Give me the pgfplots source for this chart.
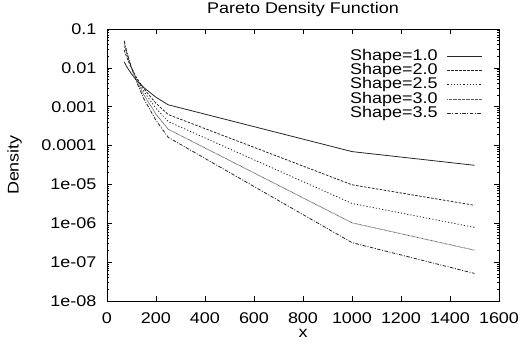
\documentclass[border=0pt]{standalone}
\usepackage{fontspec}
\setmainfont{Liberation Sans}[FakeStretch=1.16]
\usepackage{pgfplots}
\pgfplotsset{compat=1.18}
\newcommand{\gfont}{\fontsize{15.5}{17}\selectfont}
\pgfplotstableread{
x      a10        a20        a25        a30        a35
70     0.0142857  0.0285714  0.0357143  0.0428571  0.0500000
80     0.0109375  0.0191406  0.0223805  0.0251221  0.0274162
90     0.0086420  0.0134431  0.0148196  0.0156836  0.0161369
100    0.0070000  0.0098000  0.0102491  0.0102900  0.0100441
120    0.0048611  0.0056713  0.0054144  0.0049624  0.0044217
150    0.0031111  0.0029037  0.0024795  0.0020326  0.0016200
200    0.0017500  0.0012250  0.00090590 0.00064313 0.00044389
250    0.0011200  0.0006272  0.00041485 0.00026342 0.00016262
1000   7.0e-5     9.8e-6     3.241e-6   1.029e-6   3.1762e-7
1500   3.1111e-5  2.9037e-6  7.841e-7   2.0326e-7  5.1228e-8
}\pareto
\begin{document}
\begin{tikzpicture}[font=\gfont]
\begin{axis}[
  scale only axis,
  width=392pt, height=272pt,
  ymode=log,
  xmin=0, xmax=1600, ymin=1e-8, ymax=0.1,
  xtick={0,200,400,600,800,1000,1200,1400,1600},
  xticklabels={0,200,400,600,800,1000,1200,1400,1600},
  ytick={1e-8,1e-7,1e-6,1e-5,1e-4,1e-3,1e-2,1e-1},
  yticklabels={1e-08,1e-07,1e-06,1e-05,0.0001,0.001,0.01,0.1},
  tick align=inside,
  major tick length=5pt,
  minor tick length=2.5pt,
  tick style={black, line width=0.6pt},
  axis line style={line width=0.8pt},
  xlabel={x}, ylabel={Density},
  title={Pareto Density Function},
  title style={at={([yshift=9.5pt]axis description cs:0.5,1)}, anchor=base, inner sep=0pt},
  xlabel style={at={([yshift=-36pt]axis description cs:0.5,0)}, anchor=base, inner sep=0pt},
  ylabel style={at={([xshift=-85pt]axis description cs:0,0.5)}, anchor=south, inner sep=0pt},
  xticklabel style={font=\gfont, anchor=base, yshift=-22pt, inner sep=0pt},
  yticklabel style={font=\gfont, xshift=-7pt},
  label style={font=\gfont},
  legend plot pos=right,
  legend cell align=right,
  legend style={draw=none, fill=none, font=\gfont, at={(rel axis cs:0.959,0.927)}, anchor=north east,
    inner sep=0pt, row sep=0pt, column sep=9pt,
    nodes={inner sep=0.25pt, text height=10.8pt, text depth=3pt}},
  legend image code/.code={\draw[#1] (0pt,0pt) -- (35pt,0pt);},
]
\addplot[black!85, line width=0.8pt] table[x=x, y=a10] {\pareto};
\addlegendentry{Shape=1.0}
\addplot[black!85, line width=0.8pt, dash pattern=on 2.5pt off 1.5pt] table[x=x, y=a20] {\pareto};
\addlegendentry{Shape=2.0}
\addplot[black!85, line width=0.8pt, dash pattern=on 1.2pt off 2pt] table[x=x, y=a25] {\pareto};
\addlegendentry{Shape=2.5}
\addplot[black!65, line width=0.8pt, dash pattern=on 0.7pt off 0.6pt] table[x=x, y=a30] {\pareto};
\addlegendentry{Shape=3.0}
\addplot[black!85, line width=0.8pt, dash pattern=on 3.5pt off 1.5pt on 1pt off 1.5pt] table[x=x, y=a35] {\pareto};
\addlegendentry{Shape=3.5}
\coordinate (ll) at (rel axis cs:0,0);
\coordinate (ur) at (rel axis cs:1,1);
\end{axis}
\pgfresetboundingbox
\path[use as bounding box] ([xshift=-107pt,yshift=-42pt]ll) rectangle ([xshift=23pt,yshift=29pt]ur);
\end{tikzpicture}
\end{document}
